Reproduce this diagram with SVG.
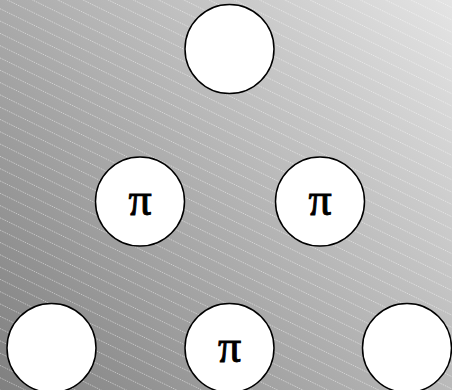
<svg xmlns="http://www.w3.org/2000/svg" width="452" height="390" viewBox="0 0 452 390">
<defs>
<linearGradient id="bg" x1="0" y1="390" x2="452" y2="0" gradientUnits="userSpaceOnUse">
<stop offset="0" stop-color="#808080"/>
<stop offset="1" stop-color="#e4e4e4"/>
</linearGradient>
<style>
.node{fill:#ffffff;stroke:#000000;stroke-width:1.5}
.lbl{font-family:"Liberation Serif","Times New Roman",serif;font-size:46px;fill:#000000;stroke:#000000;stroke-width:0.9;text-anchor:middle}
.hatch{fill:none;stroke:#ffffff;stroke-opacity:0.45;stroke-width:1;stroke-dasharray:1.5 1}
</style>
</defs>
<rect width="452" height="390" fill="url(#bg)"/>
<path class="hatch" d="M0 390l452 220.4M0 377.7l452 220.4M0 365.4l452 220.4M0 353.1l452 220.4M0 340.8l452 220.4M0 328.5l452 220.4M0 316.2l452 220.4M0 303.9l452 220.4M0 291.6l452 220.4M0 279.3l452 220.4M0 267l452 220.4M0 254.7l452 220.4M0 242.4l452 220.4M0 230.1l452 220.4M0 217.8l452 220.4M0 205.5l452 220.4M0 193.2l452 220.4M0 180.9l452 220.4M0 168.6l452 220.4M0 156.3l452 220.4M0 144l452 220.4M0 131.7l452 220.4M0 119.4l452 220.4M0 107.1l452 220.4M0 94.8l452 220.4M0 82.5l452 220.4M0 70.2l452 220.4M0 57.9l452 220.4M0 45.6l452 220.4M0 33.3l452 220.4M0 21l452 220.4M0 8.7l452 220.4M0 -3.6l452 220.4M0 -15.9l452 220.4M0 -28.2l452 220.4M0 -40.5l452 220.4M0 -52.8l452 220.4M0 -65.1l452 220.4M0 -77.4l452 220.4M0 -89.7l452 220.4M0 -102l452 220.4M0 -114.3l452 220.4M0 -126.6l452 220.4M0 -138.9l452 220.4M0 -151.2l452 220.4M0 -163.5l452 220.4M0 -175.8l452 220.4M0 -188.1l452 220.4M0 -200.4l452 220.4M0 -212.7l452 220.4"/>
<g id="connectors"></g>
<g id="n1"><circle class="node" cx="229.5" cy="49" r="44.5"/></g>
<g id="n2"><circle class="node" cx="140" cy="201.5" r="44.5"/><text class="lbl" x="140" y="215">π</text></g>
<g id="n3"><circle class="node" cx="320" cy="201.5" r="44.5"/><text class="lbl" x="320" y="215">π</text></g>
<g id="n4"><circle class="node" cx="51.5" cy="348" r="44.5"/></g>
<g id="n5"><circle class="node" cx="229.5" cy="348" r="44.5"/><text class="lbl" x="229.5" y="361.5">π</text></g>
<g id="n6"><circle class="node" cx="407" cy="348" r="44.5"/></g>
</svg>
